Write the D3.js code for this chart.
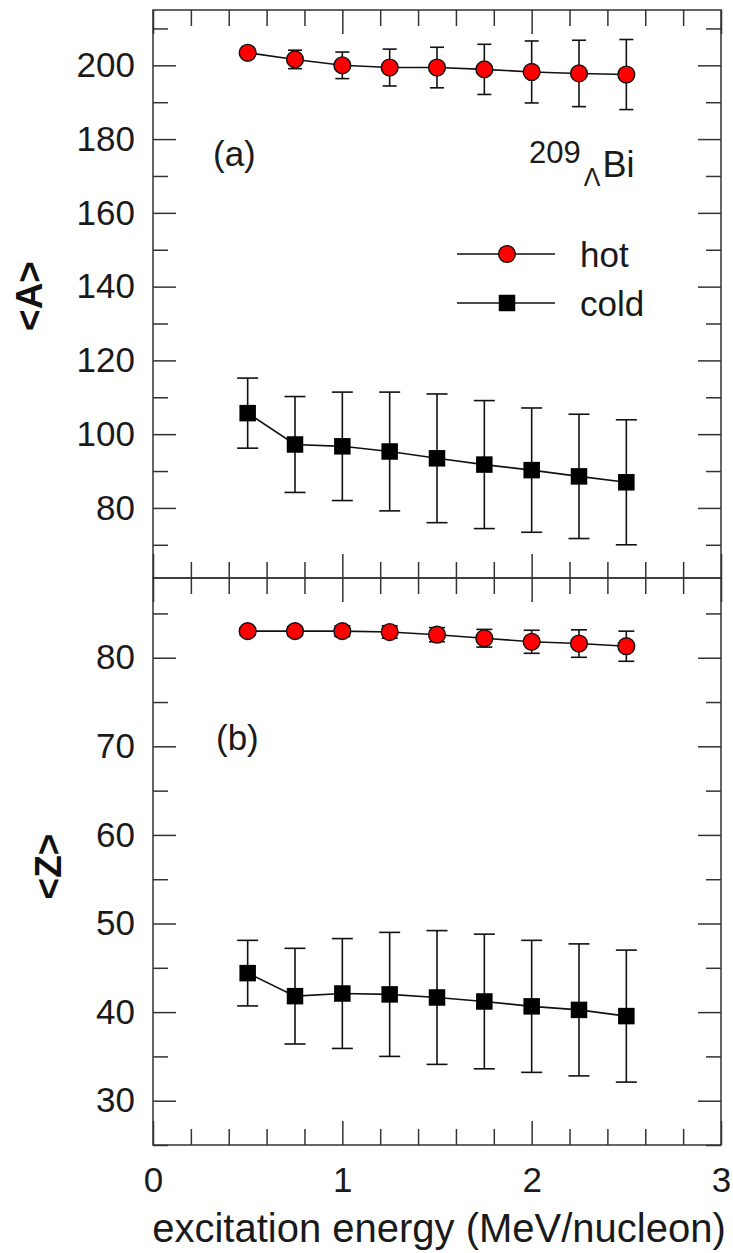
<!DOCTYPE html>
<html>
<head>
<meta charset="utf-8">
<script src="https://cdn.jsdelivr.net/npm/d3@7"></script>
<style>
  html, body { margin: 0; padding: 0; background: #fff; }
  svg { display: block; font-family: "Liberation Sans", Arial, sans-serif; }
</style>
</head>
<body>
<svg id="chart" width="733" height="1253"></svg>
<script>
// Excitation energy per nucleon (MeV/nucleon)
const energy = [0.5, 0.75, 1.0, 1.25, 1.5, 1.75, 2.0, 2.25, 2.5];

// Panel (a): mean mass number <A>
const hotA     = [203.4, 201.6, 200.0, 199.4, 199.4, 198.9, 198.2, 197.8, 197.5];
const hotAErr  = [1.0, 2.5, 3.6, 5.0, 5.5, 6.8, 8.4, 9.0, 9.5];
const coldA    = [105.7, 97.2, 96.7, 95.3, 93.45, 91.75, 90.25, 88.55, 86.95];
const coldAErr = [9.5, 13.0, 14.7, 16.1, 17.45, 17.35, 16.85, 16.85, 16.95];

// Panel (b): mean charge number <Z>
const hotZ     = [83.0, 83.0, 83.0, 82.9, 82.6, 82.2, 81.8, 81.6, 81.3];
const hotZErr  = [0.4, 0.5, 0.6, 0.7, 0.8, 1.0, 1.3, 1.55, 1.7];
const coldZ    = [44.4, 41.8, 42.1, 42.0, 41.65, 41.2, 40.65, 40.25, 39.55];
const coldZErr = [3.7, 5.4, 6.2, 7.0, 7.55, 7.6, 7.45, 7.45, 7.45];

// Axis ticks
const xMajor = [0, 1, 2, 3];
const xMinor = d3.range(0, 3.001, 0.2).map(v => +v.toFixed(1)).filter(v => !xMajor.includes(v));
const aMajor = [80, 100, 120, 140, 160, 180, 200];
const aMinor = [70, 90, 110, 130, 150, 170, 190, 210];
const zMajor = [30, 40, 50, 60, 70, 80];
const zMinor = [25, 35, 45, 55, 65, 75, 85];

const seriesNames = ["hot", "cold"];

const svg = d3.select("#chart");
const left = 153, right = 721;
const topA = 10, mid = 578, bottomZ = 1145;

const x = d3.scaleLinear().domain([0, 3]).range([left, right]);
const yA = d3.scaleLinear().domain([61, 215]).range([mid, topA]);
const yZ = d3.scaleLinear().domain([25, 89]).range([bottomZ, mid]);

const frameColor = "#333";
const majorLen = 23, minorLen = 15;
const xMajorLen = 24, xMinorLen = 16;

function drawPanel(y, yTop, yBottom, major, minor, showXLabels) {
  const g = svg.append("g");
  // left axis, ticks inward, labelled
  g.append("g").attr("transform", `translate(${left},0)`)
    .call(d3.axisLeft(y).tickValues(major).tickSizeInner(-majorLen).tickSizeOuter(0).tickPadding(18).tickFormat(d3.format("d")));
  g.append("g").attr("transform", `translate(${left},0)`)
    .call(d3.axisLeft(y).tickValues(minor).tickSizeInner(-minorLen).tickSizeOuter(0).tickFormat(""));
  // right axis, ticks inward
  g.append("g").attr("transform", `translate(${right},0)`)
    .call(d3.axisRight(y).tickValues(major).tickSizeInner(-majorLen).tickSizeOuter(0).tickFormat(""));
  g.append("g").attr("transform", `translate(${right},0)`)
    .call(d3.axisRight(y).tickValues(minor).tickSizeInner(-minorLen).tickSizeOuter(0).tickFormat(""));
  // top axis, ticks inward
  g.append("g").attr("transform", `translate(0,${yTop})`)
    .call(d3.axisTop(x).tickValues(xMajor).tickSizeInner(-xMajorLen).tickSizeOuter(0).tickFormat(""));
  g.append("g").attr("transform", `translate(0,${yTop})`)
    .call(d3.axisTop(x).tickValues(xMinor).tickSizeInner(-xMinorLen).tickSizeOuter(0).tickFormat(""));
  // bottom axis, ticks inward
  g.append("g").attr("transform", `translate(0,${yBottom})`)
    .call(d3.axisBottom(x).tickValues(xMajor).tickSizeInner(-xMajorLen).tickSizeOuter(0).tickPadding(22)
      .tickFormat(showXLabels ? d3.format("d") : ""));
  g.append("g").attr("transform", `translate(0,${yBottom})`)
    .call(d3.axisBottom(x).tickValues(xMinor).tickSizeInner(-xMinorLen).tickSizeOuter(0).tickFormat(""));

  g.selectAll(".domain").remove();
  g.selectAll(".tick line").attr("stroke", frameColor).attr("stroke-width", 1.5);
  g.selectAll(".tick text").attr("fill", "#1a1a1a").style("font-size", "35px")
    .style("font-family", "'Liberation Sans', Arial, sans-serif");
  // frame
  g.append("rect").attr("x", left).attr("y", yTop)
    .attr("width", right - left).attr("height", yBottom - yTop)
    .attr("fill", "none").attr("stroke", frameColor).attr("stroke-width", 1.5);
  return g;
}

function drawSeries(y, values, errs, kind, capHalf) {
  const g = svg.append("g");
  const pts = energy.map((e, i) => ({ e, v: values[i], err: errs[i] }));
  // error bars
  const eb = g.selectAll("g.err").data(pts).join("g").attr("class", "err")
    .attr("stroke", "#111").attr("stroke-width", 1.6);
  eb.append("line").attr("x1", d => x(d.e)).attr("x2", d => x(d.e))
    .attr("y1", d => y(d.v - d.err)).attr("y2", d => y(d.v + d.err));
  eb.append("line").attr("x1", d => x(d.e) - capHalf).attr("x2", d => x(d.e) + capHalf)
    .attr("y1", d => y(d.v + d.err)).attr("y2", d => y(d.v + d.err));
  eb.append("line").attr("x1", d => x(d.e) - capHalf).attr("x2", d => x(d.e) + capHalf)
    .attr("y1", d => y(d.v - d.err)).attr("y2", d => y(d.v - d.err));
  // connecting line
  g.append("path").datum(pts)
    .attr("d", d3.line().x(d => x(d.e)).y(d => y(d.v)))
    .attr("fill", "none").attr("stroke", "#111").attr("stroke-width", 1.6);
  // markers
  if (kind === "hot") {
    g.selectAll("circle").data(pts).join("circle")
      .attr("cx", d => x(d.e)).attr("cy", d => y(d.v)).attr("r", 8.4)
      .attr("fill", "#ff0000").attr("stroke", "#111").attr("stroke-width", 1.4);
  } else {
    const s = 16.5;
    g.selectAll("rect").data(pts).join("rect")
      .attr("x", d => x(d.e) - s / 2).attr("y", d => y(d.v) - s / 2)
      .attr("width", s).attr("height", s).attr("fill", "#000");
  }
}

// Panels
drawPanel(yA, topA, mid, aMajor, aMinor, false);
drawPanel(yZ, mid, bottomZ, zMajor, zMinor, true);

drawSeries(yA, hotA, hotAErr, "hot", 7);
drawSeries(yA, coldA, coldAErr, "cold", 10.5);
drawSeries(yZ, hotZ, hotZErr, "hot", 8);
drawSeries(yZ, coldZ, coldZErr, "cold", 10.5);

// Axis titles
svg.append("text").attr("transform", `translate(42,${(topA + mid) / 2 + 2}) rotate(-90)`)
  .attr("text-anchor", "middle").style("font-size", "37px").style("font-weight", "bold")
  .attr("fill", "#111").text("<A>");
svg.append("text").attr("transform", `translate(61,${(mid + bottomZ) / 2 + 5}) rotate(-90)`)
  .attr("text-anchor", "middle").style("font-size", "37px").style("font-weight", "bold")
  .attr("fill", "#111").text("<Z>");
svg.append("text").attr("x", (left + right) / 2 + 2).attr("y", 1242)
  .attr("text-anchor", "middle").style("font-size", "40px").attr("fill", "#1a1a1a")
  .text("excitation energy (MeV/nucleon)");

// Panel labels
svg.append("text").attr("x", 213).attr("y", 166).style("font-size", "35px").attr("fill", "#1a1a1a").text("(a)");
svg.append("text").attr("x", 216).attr("y", 750).style("font-size", "35px").attr("fill", "#1a1a1a").text("(b)");

// Nucleus label
const nuc = svg.append("text").attr("x", 529).attr("y", 163).attr("fill", "#1a1a1a");
nuc.append("tspan").style("font-size", "31px").text("209");
nuc.append("tspan").attr("y", 186).attr("dx", 3).style("font-size", "25px").text("Λ");
nuc.append("tspan").attr("y", 177).attr("dx", 2).style("font-size", "36px").text("Bi");

// Legend
const legend = svg.append("g");
const legY = [254, 303];
seriesNames.forEach((name, i) => {
  const ly = legY[i];
  legend.append("line").attr("x1", 457).attr("x2", 555).attr("y1", ly).attr("y2", ly)
    .attr("stroke", "#111").attr("stroke-width", 1.6);
  if (name === "hot") {
    legend.append("circle").attr("cx", 507).attr("cy", ly).attr("r", 8.4)
      .attr("fill", "#ff0000").attr("stroke", "#111").attr("stroke-width", 1.4);
  } else {
    legend.append("rect").attr("x", 507 - 8.25).attr("y", ly - 8.25).attr("width", 16.5).attr("height", 16.5).attr("fill", "#000");
  }
  legend.append("text").attr("x", 580).attr("y", ly + 13).style("font-size", "35px")
    .attr("fill", "#1a1a1a").text(name);
});
</script>
</body>
</html>
